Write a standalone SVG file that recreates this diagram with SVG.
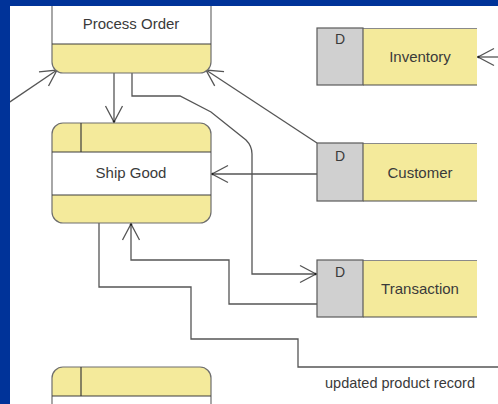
<svg xmlns="http://www.w3.org/2000/svg" width="498" height="404" viewBox="0 0 498 404">
<defs>
<style>
.frame{fill:#003399}
.yel{fill:#F4EA9B}
.wht{fill:#FFFFFF}
.outline{fill:none;stroke:#6E6E6E;stroke-width:1.2}
.div{stroke:#3C3C3C;stroke-width:1.2;fill:none}
.dbox{fill:#D0D0D0;stroke:#5A5A5A;stroke-width:1.2}
.ybox{fill:#F4EA9B}
.edge{stroke:#4A4A4A;stroke-width:1.2}
.conn{fill:none;stroke:#555555;stroke-width:1.3}
.lbl{font-family:"Liberation Sans",Arial,sans-serif;font-size:15px;fill:#3A3A3A;text-anchor:middle}
</style>
<marker id="arr" viewBox="-18 -11 20 22" markerWidth="20" markerHeight="22" refX="0" refY="0" orient="auto" markerUnits="userSpaceOnUse">
<path d="M-16,-8.5 L0,0 L-16,8.5" fill="none" stroke="#555555" stroke-width="1.3"/>
<circle cx="-0.5" cy="0" r="1.2" fill="#222"/>
</marker>
</defs>
<rect x="0" y="0" width="498" height="404" fill="#FFFFFF"/>

<g id="connectors">
<path class="conn" d="M-5,112 L57,70" marker-end="url(#arr)"/>
<path class="conn" d="M317,143 L206,70" marker-end="url(#arr)"/>
<path class="conn" d="M114,73 L114,122" marker-end="url(#arr)"/>
<path class="conn" d="M132,73 V96 H180 L211,112 L246,140 Q252,146 252,154 V274 H316" marker-end="url(#arr)"/>
<path class="conn" d="M317,174 L212,174" marker-end="url(#arr)"/>
<path class="conn" d="M317,304 H229 V260 H131 V224" marker-end="url(#arr)"/>
<path class="conn" d="M99,223 V287 H191 V339 H298 V367 H498"/>
<path class="conn" d="M498,57 L478,57" marker-end="url(#arr)"/>
<text class="lbl" x="400" y="388" style="font-size:14.5px">updated product record</text>
</g>

<g id="process-order">
<rect x="52" y="-28" width="159" height="101" rx="11" class="yel"/>
<rect x="52" y="1" width="159" height="43" class="wht"/>
<rect x="52" y="-28" width="159" height="101" rx="11" class="outline"/>
<line x1="52" y1="44" x2="211" y2="44" class="div"/>
<text class="lbl" x="131" y="29">Process Order</text>
</g>

<g id="ship-good">
<rect x="52" y="123" width="159" height="100" rx="11" class="yel"/>
<rect x="52" y="152" width="159" height="43" class="wht"/>
<rect x="52" y="123" width="159" height="100" rx="11" class="outline"/>
<line x1="52" y1="152" x2="211" y2="152" class="div"/>
<line x1="52" y1="195" x2="211" y2="195" class="div"/>
<line x1="81" y1="123" x2="81" y2="152" class="div"/>
<text class="lbl" x="131" y="178">Ship Good</text>
</g>

<g id="process-3">
<rect x="52" y="367" width="159" height="100" rx="11" class="yel"/>
<rect x="52" y="396" width="159" height="43" class="wht"/>
<rect x="52" y="367" width="159" height="100" rx="11" class="outline"/>
<line x1="52" y1="396" x2="211" y2="396" class="div"/>
<line x1="81" y1="367" x2="81" y2="396" class="div"/>
</g>

<g id="inventory">
<rect x="363" y="28" width="114" height="57" class="ybox"/>
<line x1="363" y1="28.5" x2="477" y2="28.5" stroke="#8A8A8A" stroke-width="1.2"/>
<line x1="363" y1="85" x2="477" y2="85" class="edge"/>
<rect x="317" y="28" width="46" height="57" class="dbox"/>
<text class="lbl" x="340" y="44" style="font-size:14px">D</text>
<text class="lbl" x="420" y="62">Inventory</text>
</g>

<g id="customer">
<rect x="363" y="143" width="114" height="58" class="ybox"/>
<line x1="363" y1="143.5" x2="477" y2="143.5" stroke="#8A8A8A" stroke-width="1.2"/>
<line x1="363" y1="201" x2="477" y2="201" class="edge"/>
<rect x="317" y="143" width="46" height="58" class="dbox"/>
<text class="lbl" x="340" y="161" style="font-size:14px">D</text>
<text class="lbl" x="420" y="178">Customer</text>
</g>

<g id="transaction">
<rect x="363" y="260" width="114" height="57" class="ybox"/>
<line x1="363" y1="260.5" x2="477" y2="260.5" stroke="#8A8A8A" stroke-width="1.2"/>
<line x1="363" y1="317" x2="477" y2="317" class="edge"/>
<rect x="317" y="260" width="46" height="57" class="dbox"/>
<text class="lbl" x="340" y="277" style="font-size:14px">D</text>
<text class="lbl" x="420" y="294">Transaction</text>
</g>

<rect class="frame" x="0" y="0" width="498" height="6"/>
<rect class="frame" x="0" y="0" width="10" height="404"/>
</svg>
